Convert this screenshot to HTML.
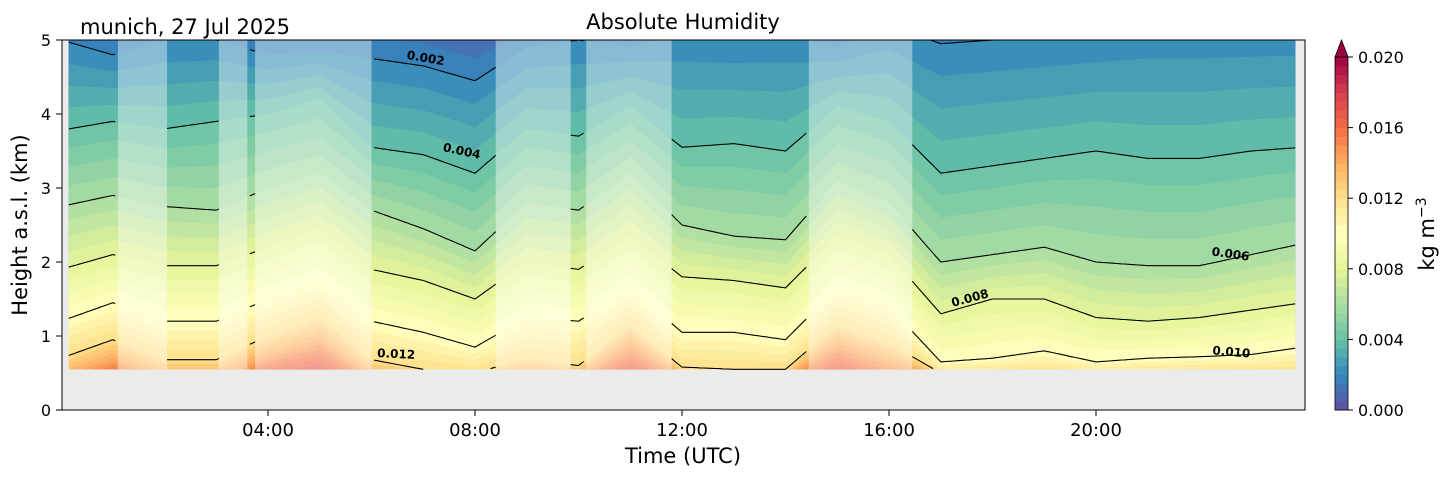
<!DOCTYPE html>
<html><head><meta charset="utf-8"><style>
body{margin:0;background:#fff;font-family:"Liberation Sans","DejaVu Sans",sans-serif}
</style></head><body>
<svg id="c" width="1454" height="478" xmlns="http://www.w3.org/2000/svg" font-family="DejaVu Sans, Liberation Sans, sans-serif">
<defs><clipPath id="dc"><rect x="62" y="40" width="1243" height="330"/></clipPath></defs>
<rect x="62" y="40" width="1243" height="370" fill="#ebebeb"/>
<g id="fills" clip-path="url(#dc)"></g>
<g id="mask" clip-path="url(#dc)"></g>
<g id="lines" clip-path="url(#dc)"></g>
<g id="labels"></g>
<rect x="62" y="40" width="1243" height="370" fill="none" stroke="#000" stroke-width="1"/>
<g id="axes"></g>
<text x="683" y="29" font-size="21" text-anchor="middle">Absolute Humidity</text>
<text x="80" y="34" font-size="21">munich, 27 Jul 2025</text>
<text x="683" y="463" font-size="21" text-anchor="middle">Time (UTC)</text>
<text transform="translate(27,225) rotate(-90)" font-size="21" text-anchor="middle">Height a.s.l. (km)</text>
<g id="cbar"></g>
<text transform="translate(1434,234) rotate(-90)" font-size="21" text-anchor="middle">kg m<tspan dy="-8" font-size="14">−3</tspan></text>
</svg>
<script>
const hours=[0,1,2,3,4,5,6,7,8,9,10,11,12,13,14,15,16,17,18,19,20,21,22,23,24];
const levels=[0.001,0.002,0.004,0.006,0.008,0.010,0.012,0.014,0.016];
const h001=[5.6,5.4,5.6,5.5,5.3,5.4,5.35,5.25,5.05,5.4,5.6,5.4,5.7,5.65,5.7,5.4,5.8,5.55,5.6,5.65,5.7,5.8,5.8,5.8,5.8];
const h002=[5.0,4.8,5.0,5.0,4.8,4.85,4.75,4.65,4.45,4.9,5.0,4.9,5.1,5.05,5.1,4.9,5.2,4.95,5.0,5.05,5.1,5.2,5.2,5.2,5.2];
const h004=[3.78,3.9,3.8,3.9,4.0,4.2,3.55,3.45,3.2,3.8,3.7,4.1,3.55,3.6,3.5,4.1,3.9,3.2,3.3,3.4,3.5,3.4,3.4,3.5,3.55];
const h006=[2.75,2.9,2.75,2.7,3.0,3.2,2.7,2.45,2.15,2.8,2.7,3.2,2.5,2.35,2.3,3.1,2.8,2.0,2.1,2.2,2.0,1.95,1.95,2.1,2.25];
const h008=[1.9,2.1,1.95,1.95,2.2,2.45,1.9,1.75,1.5,2.0,1.9,2.35,1.8,1.75,1.65,2.35,2.1,1.3,1.5,1.5,1.25,1.2,1.25,1.35,1.45];
const h010=[1.2,1.45,1.2,1.2,1.5,1.75,1.2,1.05,0.85,1.25,1.2,1.65,1.05,1.05,0.95,1.65,1.4,0.65,0.7,0.8,0.65,0.7,0.72,0.75,0.85];
const h012=[0.7,0.95,0.68,0.68,1.0,1.25,0.68,0.55,0.5,0.7,0.6,1.15,0.58,0.55,0.55,1.15,0.9,0.5,0.5,0.5,0.5,0.5,0.5,0.5,0.5];
const h014=[0.45,0.7,0.45,0.45,0.75,0.95,0.45,0.45,0.45,0.5,0.45,0.9,0.45,0.45,0.45,0.9,0.65,0.45,0.45,0.45,0.45,0.45,0.45,0.45,0.45];
const h016=[0.3,0.5,0.3,0.3,0.55,0.7,0.3,0.3,0.3,0.3,0.3,0.65,0.3,0.3,0.3,0.65,0.4,0.3,0.3,0.3,0.3,0.3,0.3,0.3,0.3];
const maskStart=[1.1,3.05,3.75,8.4,10.15,14.45];
const maskEnd=[2.05,3.6,6.0,9.85,11.8,16.45];
const lineLevels=[0.002,0.004,0.006,0.008,0.010,0.012];
const yTicks=[0,1,2,3,4,5];
const xTicks=[4,8,12,16,20];
const xTickLabels=["04:00","08:00","12:00","16:00","20:00"];
const cbTicks=[0,0.004,0.008,0.012,0.016,0.020];
const cbTickLabels=["0.000","0.004","0.008","0.012","0.016","0.020"];
const dataBottom=0.55, tEnd=23.85;

const X=t=>61+t*51.75, Y=k=>410-k*74, CY=v=>410-v/0.02*353;
const hs=[h001,h002,h004,h006,h008,h010,h012,h014,h016];
const spec=["#5e4fa2","#3288bd","#66c2a5","#abdda4","#e6f598","#ffffbf","#fee08b","#fdae61","#f46d43","#d53e4f","#9e0142"];
function col(v){let f=Math.max(0,Math.min(1,v/0.02))*10,i=Math.min(9,Math.floor(f)),r=f-i;
 const a=spec[i],b=spec[i+1],p=(s,o)=>parseInt(s.substr(o,2),16);
 const m=o=>Math.round(p(a,o)+(p(b,o)-p(a,o))*r);return `rgb(${m(1)},${m(3)},${m(5)})`;}
function hAt(arr,t){let i=Math.min(23,Math.floor(t)),r=t-i;return arr[i]+(arr[i+1]-arr[i])*r;}
function levelH(v,t){
 if(v<=levels[0])return hAt(hs[0],t)+ (levels[0]-v)*600;
 for(let j=0;j<levels.length-1;j++){if(v<=levels[j+1]){let r=(v-levels[j])/(levels[j+1]-levels[j]);return hAt(hs[j],t)+(hAt(hs[j+1],t)-hAt(hs[j],t))*r;}}
 return hAt(hs[hs.length-1],t)-(v-levels[levels.length-1])*150;}
const NS='http://www.w3.org/2000/svg';
function mk(tag,at,parent){const e=document.createElementNS(NS,tag);for(const k in at)e.setAttribute(k,at[k]);parent.appendChild(e);return e;}
const ts=[];for(let t=0.15;t<=tEnd+1e-9;t+=0.05)ts.push(t);
const fills=document.getElementById('fills');
let bg=mk('rect',{x:X(0.15),y:40,width:X(tEnd)-X(0.15),height:Y(dataBottom)-40,fill:col(0.00025)},fills);


for(let v=0.0005;v<0.0201;v+=0.0005){
 let d=`M${X(ts[0])},${Y(dataBottom)}`;
 ts.forEach(t=>{d+=`L${X(t).toFixed(1)},${Y(Math.max(dataBottom,levelH(v,t))).toFixed(1)}`});
 d+=`L${X(tEnd)},${Y(dataBottom)}Z`;
 const p=mk('path',{d:d,fill:col(v+0.00025)},fills);
 
 
}
const mask=document.getElementById('mask');
maskStart.forEach((s,i)=>{const r=mk('rect',{x:X(s),y:40,width:X(maskEnd[i])-X(s),height:Y(dataBottom)-40,fill:'#fff','fill-opacity':0.4},mask);
 
 });
const lines=document.getElementById('lines');
function masked(t){for(let i=0;i<maskStart.length;i++)if(t>maskStart[i]&&t<maskEnd[i])return true;return false;}
lineLevels.forEach(v=>{let d='',pen=false;
 ts.forEach(t=>{if(masked(t)){pen=false;return;}const h=levelH(v,t);if(h<dataBottom){pen=false;return;}
  d+=(pen?'L':'M')+X(t).toFixed(1)+','+Y(h).toFixed(1);pen=true;});
 const p=mk('path',{d:d,fill:'none',stroke:'#000','stroke-width':1.1},lines);
 
 });
const labs=[[425,62,10,"0.002"],[461,155,12,"0.004"],[396,358,3,"0.012"],[1230,258,8,"0.006"],[971,302,-15,"0.008"],[1231,356,5,"0.010"]];
const lg=document.getElementById('labels');
labs.forEach(l=>{const e=mk('text',{transform:`translate(${l[0]},${l[1]}) rotate(${l[2]})`,'font-size':12,'font-weight':'bold','text-anchor':'middle'},lg);e.textContent=l[3];
 
 });
const ax=document.getElementById('axes');
yTicks.forEach(k=>{mk('line',{x1:56,x2:62,y1:Y(k),y2:Y(k),stroke:'#000'},ax);
 const e=mk('text',{x:51,y:Y(k)+6,'font-size':16,'text-anchor':'end'},ax);e.textContent=k;
 
 });
xTicks.forEach((t,i)=>{mk('line',{x1:X(t),x2:X(t),y1:410,y2:416,stroke:'#000'},ax);
 const e=mk('text',{x:X(t),y:436,'font-size':18,'text-anchor':'middle'},ax);e.textContent=xTickLabels[i];
 
 });
const cb=document.getElementById('cbar');
for(let i=0;i<40;i++){const v=i*0.0005;const r=mk('rect',{x:1335,y:CY(v+0.0005),width:13,height:CY(v)-CY(v+0.0005)+0.5,fill:col(v+0.00025)},cb);
 
 }
const tri=mk('path',{d:`M1335,${CY(0.02)}L1341.5,40L1348,${CY(0.02)}Z`,fill:'#9e0142',stroke:'#000','stroke-width':0.8},cb);


mk('rect',{x:1335,y:CY(0.02),width:13,height:CY(0)-CY(0.02),fill:'none',stroke:'#000','stroke-width':0.8},cb);
cbTicks.forEach((v,i)=>{mk('line',{x1:1348,x2:1353,y1:CY(v),y2:CY(v),stroke:'#000'},cb);
 const e=mk('text',{x:1358,y:CY(v)+6,'font-size':16},cb);e.textContent=cbTickLabels[i];
 
 });
</script>
</body></html>
